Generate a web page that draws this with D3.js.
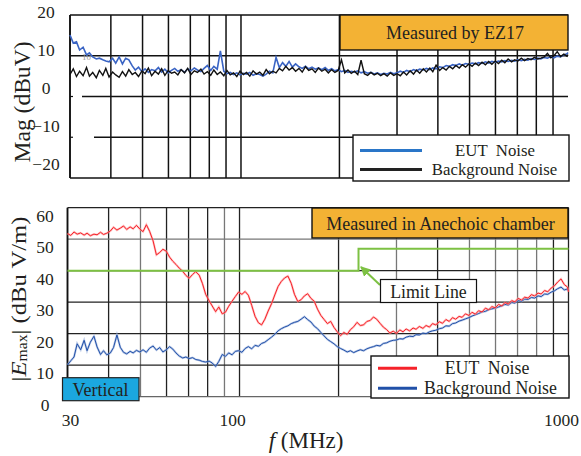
<!DOCTYPE html>
<html>
<head>
<meta charset="utf-8">
<script src="https://cdn.jsdelivr.net/npm/d3@7"></script>
<style>
  body { margin: 0; background: #fff; }
  text { font-family: "Liberation Serif", "Times New Roman", serif; fill: #231f20; }
</style>
</head>
<body>
<svg width="581" height="456"></svg>
<script>
// frequency points (MHz), shared by all traces
const freqs = [30.0, 30.7, 31.4, 32.1, 32.9, 33.7, 34.4, 35.2, 36.1, 36.9,
  37.8, 38.6, 39.5, 40.5, 41.4, 42.4, 43.4, 44.4, 45.4, 46.5,
  47.5, 48.6, 49.8, 50.9, 52.1, 53.3, 54.6, 55.9, 57.2, 58.5,
  59.9, 61.3, 62.7, 64.1, 65.6, 67.2, 68.7, 70.3, 72.0, 73.6,
  75.4, 77.1, 78.9, 80.8, 82.6, 84.6, 86.5, 88.6, 90.6, 92.7,
  94.9, 97.1, 99.3, 101.7, 104.0, 106.4, 108.9, 111.5, 114.1, 116.7,
  119.4, 122.2, 125.1, 128.0, 131.0, 134.0, 137.1, 140.3, 143.6, 146.9,
  150.4, 153.9, 157.5, 161.1, 164.9, 168.7, 172.6, 176.7, 180.8, 185.0,
  189.3, 193.7, 198.2, 202.9, 207.6, 212.4, 217.4, 222.4, 227.6, 232.9,
  238.3, 243.9, 249.6, 255.4, 261.3, 267.4, 273.6, 280.0, 286.5, 293.2,
  300, 307, 314, 321, 329, 337, 344, 352, 361, 369,
  378, 386, 395, 405, 414, 424, 434, 444, 454, 465,
  475, 486, 498, 509, 521, 533, 546, 559, 572, 585,
  599, 613, 627, 641, 656, 672, 687, 703, 720, 736,
  754, 771, 789, 808, 826, 846, 865, 886, 906, 927,
  949, 971, 993, 1000];

// top panel: measured by EZ17 (dBuV)
const ezEut = [15.1, 13.1, 13.4, 11.4, 12.1, 10.2, 10.7, 9.7, 9.2, 9.4,
  9.0, 8.7, 8.5, 9.4, 8.2, 9.7, 8.0, 9.4, 9.0, 7.5,
  6.5, 7.2, 6.1, 6.8, 5.9, 6.6, 6.3, 7.1, 6.0, 6.7,
  5.8, 6.4, 6.9, 6.2, 6.6, 5.9, 6.8, 6.3, 7.0, 6.5,
  6.1, 6.9, 7.6, 6.4, 7.4, 6.7, 11.2, 6.2, 5.6, 5.9,
  5.4, 5.8, 5.3, 5.7, 5.5, 5.9, 5.2, 5.6, 5.4, 5.0,
  5.5, 6.2, 5.8, 9.6, 7.1, 8.3, 7.4, 8.6, 7.2, 8.0,
  7.3, 6.9, 7.4, 6.8, 7.2, 6.7, 7.0, 6.6, 7.1, 6.4,
  6.8, 6.3, 6.6, 6.1, 6.4, 5.9, 6.2, 6.0, 6.3, 5.8,
  6.1, 5.7, 5.9, 5.5, 5.8, 5.4, 5.7, 5.5, 5.9, 5.6,
  5.8, 6.2, 5.9, 6.4, 6.1, 6.6, 6.3, 6.7, 6.5, 6.9,
  6.6, 7.0, 6.8, 7.3, 7.1, 7.6, 7.4, 7.8, 7.6, 8.0,
  7.7, 8.1, 7.9, 8.2, 8.0, 8.3, 8.1, 8.5, 8.2, 8.6,
  8.4, 8.7, 8.5, 8.8, 8.6, 8.9, 8.7, 9.0, 8.8, 9.1,
  8.9, 9.3, 9.1, 9.4, 9.2, 9.6, 9.4, 9.8, 9.5, 9.9,
  9.7, 10.2, 10.5, 10.8];
const ezBg = [5.4, 6.8, 4.9, 6.2, 5.1, 7.1, 5.0, 5.9, 4.6, 6.4,
  5.2, 6.9, 4.8, 6.0, 5.3, 4.7, 6.1, 5.0, 6.6, 5.4,
  5.9, 4.9, 6.3, 5.6, 7.0, 5.1, 6.2, 5.5, 6.8, 5.2,
  6.4, 5.7, 6.0, 5.3, 6.6, 5.8, 6.9, 5.4, 6.3, 5.9,
  6.7, 5.5, 6.1, 5.2, 6.5, 5.4, 6.0, 5.1, 6.4, 5.3,
  5.8, 4.9, 6.2, 5.4, 5.9, 5.0, 6.3, 5.5, 6.0, 5.2,
  6.6, 5.6, 6.2, 5.8, 6.9, 6.3, 7.4, 6.5, 7.1, 6.2,
  6.9, 6.0, 7.3, 6.4, 6.8, 5.9, 7.0, 6.2, 6.7, 5.8,
  6.6, 5.9, 6.4, 9.0, 5.8, 6.5, 5.7, 6.2, 5.4, 8.9,
  5.6, 5.2, 5.9, 5.3, 5.7, 5.1, 5.6, 5.0, 5.8, 5.2,
  5.6, 5.1, 6.0, 5.3, 6.3, 5.5, 6.5, 5.7, 6.8, 6.0,
  7.0, 6.1, 7.7, 6.4, 7.1, 6.5, 7.4, 6.8, 7.6, 7.0,
  7.8, 7.2, 8.0, 7.4, 8.2, 7.6, 8.4, 7.8, 8.6, 7.9,
  8.7, 8.1, 8.9, 8.3, 9.2, 8.5, 9.0, 8.7, 9.4, 8.8,
  9.3, 9.0, 9.6, 9.2, 9.4, 9.7, 10.6, 9.5, 10.0, 11.0,
  9.8, 10.4, 9.9, 10.3];

// bottom panel: anechoic chamber (dBuV/m)
const acEut = [51.8, 51.2, 52.3, 51.6, 52.0, 51.3, 51.9, 51.1, 51.6, 51.4,
  52.2, 51.5, 51.9, 52.6, 53.8, 52.9, 53.5, 54.2, 53.1, 53.9,
  53.3, 54.4, 53.2, 52.4, 54.6, 52.5, 49.5, 45.0, 45.8, 46.8,
  46.2, 44.3, 43.0, 42.0, 40.8, 39.8, 38.5, 37.6, 38.8, 39.7,
  38.6, 36.0, 32.5, 30.5, 28.8, 27.0, 28.5, 26.3, 26.8, 28.7,
  30.3, 31.8, 33.2, 32.5, 33.4, 32.2, 29.0, 25.5, 23.5, 22.8,
  24.6, 27.2, 29.5, 32.3, 35.0, 36.6, 37.7, 38.3, 36.0, 32.5,
  30.2, 30.8, 32.0, 32.7, 31.2, 30.3, 27.8, 25.8, 24.5, 23.2,
  23.9, 22.0, 20.6, 19.4, 20.4, 19.8, 21.3, 22.2, 23.6, 22.6,
  22.8, 23.9, 24.2, 25.3, 24.6, 23.3, 22.1, 21.3, 20.2, 20.8,
  20.1, 21.2, 20.6, 21.5, 20.9, 21.8, 21.4, 22.3, 21.7, 22.6,
  22.1, 23.2, 22.8, 23.8, 23.3, 24.5, 23.9, 25.1, 24.6, 25.5,
  25.2, 26.3, 25.8, 26.8, 26.2, 27.3, 26.9, 28.1, 27.6, 28.6,
  28.2, 29.3, 28.8, 29.9, 29.4, 30.5, 30.1, 31.2, 30.7, 31.6,
  31.3, 32.4, 32.0, 32.9, 32.6, 33.7, 33.3, 34.5, 35.2, 36.4,
  37.4, 35.6, 34.8, 33.3];
const acBg = [10.1, 11.4, 12.6, 16.8, 14.9, 17.9, 14.6, 17.3, 19.2, 15.8,
  13.4, 14.6, 13.3, 13.9, 15.6, 19.6, 15.7, 14.1, 13.6, 14.4,
  13.9, 14.7, 14.2, 14.9, 14.1, 15.4, 16.1, 14.8, 15.6, 14.2,
  14.9, 15.9, 15.1, 13.9, 12.9, 12.3, 12.6, 12.1, 12.4, 11.8,
  11.6, 11.2, 11.0, 11.3, 10.7, 9.6, 11.2, 13.4, 12.8, 13.9,
  13.3, 14.4, 14.6, 14.1, 15.3, 15.9, 15.2, 16.3, 16.0, 16.9,
  17.3, 18.1, 18.9, 19.8, 20.9, 21.6, 22.1, 22.5, 23.2, 23.6,
  23.9, 24.6, 25.4, 24.5, 23.7, 22.4, 21.6, 20.4, 19.3, 18.2,
  17.5, 16.8, 15.9, 15.3, 14.8, 14.2, 14.6, 14.0, 14.5, 14.9,
  14.6, 15.2, 15.6, 15.9, 16.3, 16.1, 16.9, 17.1, 17.6, 17.9,
  18.0, 18.4, 18.3, 18.9, 19.2, 19.1, 19.7, 19.6, 20.2, 20.0,
  20.6, 20.9, 21.1, 21.6, 21.8, 22.5, 22.4, 23.2, 23.4, 24.0,
  24.3, 24.7, 25.1, 25.6, 26.0, 26.4, 26.9, 27.1, 27.6, 27.9,
  28.1, 28.5, 28.8, 29.3, 29.1, 29.9, 29.7, 30.5, 30.3, 31.0,
  30.9, 31.5, 31.3, 32.0, 31.8, 32.6, 32.5, 33.2, 33.6, 34.3,
  34.8, 33.9, 34.2, 33.6];

// limit line (dBuV/m) - step at 230 MHz
const limitFreqs = [30, 230, 230, 1000];
const limitVals = [40, 40, 47, 47];

const gridFreqs = [40, 50, 60, 70, 80, 90, 100, 200, 300, 400, 500, 600, 700, 800, 900];
const topTicks = [20, 10, 0, -10, -20];
const botTicks = [0, 10, 20, 30, 40, 50, 60];
const xTickLabels = [30, 100, 1000];

const svg = d3.select("svg");
const FS = 17.8;   // label font size
const TS = 17.5;   // tick font size

// ---------------- top panel ----------------
const xT = d3.scaleLog().domain([30, 1000]).range([70, 568]);
const yT = d3.scaleLinear().domain([-20, 20]).range([178, 15]);
// the tick labels in the original sit on a slightly compressed ladder
const yTLab = d3.scaleLinear().domain([-20, 20]).range([163.5, 12]);

const gTop = svg.append("g");

gTop.selectAll(".vg").data(gridFreqs).enter().append("line")
  .attr("x1", d => xT(d)).attr("x2", d => xT(d))
  .attr("y1", yT(20)).attr("y2", yT(-20))
  .attr("stroke", "#111").attr("stroke-width", 1.5);

// horizontal grid (lines at 0 and -10 start a bit right of the axis)
const hStart = {20: 70, 10: 70, 0: 82, "-10": 94, "-20": 70};
gTop.selectAll(".hg").data(topTicks).enter().append("line")
  .attr("x1", d => hStart[d]).attr("x2", xT(1000))
  .attr("y1", d => yT(d)).attr("y2", d => yT(d))
  .attr("stroke", "#111").attr("stroke-width", 1.5);
gTop.selectAll(".tk").data([0, -10]).enter().append("line")
  .attr("x1", 70).attr("x2", 73).attr("y1", d => yT(d)).attr("y2", d => yT(d))
  .attr("stroke", "#111").attr("stroke-width", 1.2);

gTop.append("line").attr("x1", xT(30)).attr("x2", xT(30))
  .attr("y1", yT(20)).attr("y2", yT(-20)).attr("stroke", "#111").attr("stroke-width", 1.9);

gTop.append("text").attr("x", 82).attr("y", yT(10) + 4)
  .attr("font-size", 9).style("fill", "#999").text("10");

const lineT = d3.line().x((d, i) => xT(freqs[i])).y(d => yT(d));
gTop.append("path").datum(ezEut).attr("d", lineT)
  .attr("fill", "none").attr("stroke", "#3a64c4").attr("stroke-width", 1.6);
gTop.append("path").datum(ezBg).attr("d", lineT)
  .attr("fill", "none").attr("stroke", "#111").attr("stroke-width", 1.4);

gTop.selectAll(".yl").data(topTicks).enter().append("text")
  .attr("x", 46).attr("y", d => yTLab(d))
  .attr("text-anchor", "middle").attr("dominant-baseline", "central")
  .attr("font-size", TS)
  .text(d => d < 0 ? "\u2212" + Math.abs(d) : d);

gTop.append("text")
  .attr("transform", "translate(22,102) rotate(-90)")
  .attr("text-anchor", "middle").attr("dominant-baseline", "central")
  .attr("font-size", 23).attr("textLength", 121).attr("lengthAdjust", "spacingAndGlyphs")
  .text("Mag (dBuV)");

gTop.append("rect").attr("x", 340).attr("y", 15).attr("width", 228).attr("height", 35)
  .attr("fill", "#f3b234").attr("stroke", "#111").attr("stroke-width", 1.4);
gTop.append("text").attr("x", 455).attr("y", 33)
  .attr("text-anchor", "middle").attr("dominant-baseline", "central")
  .attr("font-size", 18).text("Measured by EZ17");

// legend top
gTop.append("rect").attr("x", 353).attr("y", 135).attr("width", 216).attr("height", 46)
  .attr("fill", "#fff").attr("stroke", "#111").attr("stroke-width", 1.4);
const legT = [{name: "EUT  Noise", color: "#2a76c8", y: 150.5, tx: 495},
              {name: "Background Noise", color: "#222", y: 169.5, tx: 494.5}];
legT.forEach(l => {
  gTop.append("line").attr("x1", 360).attr("x2", 422).attr("y1", l.y).attr("y2", l.y)
    .attr("stroke", l.color).attr("stroke-width", 3);
  gTop.append("text").attr("x", l.tx).attr("y", l.y)
    .attr("text-anchor", "middle").attr("dominant-baseline", "central")
    .attr("font-size", 16.8).style("white-space", "pre").text(l.name);
});

// ---------------- bottom panel ----------------
const xB = d3.scaleLog().domain([30, 1000]).range([67.5, 568.5]);
const yB = d3.scaleLinear().domain([0, 60]).range([396.7, 207.7]);
const gBot = svg.append("g");

const lightV = new Set([50, 90, 300, 500, 600, 700, 800]);
gBot.selectAll(".vg").data(gridFreqs).enter().append("line")
  .attr("x1", d => xB(d)).attr("x2", d => xB(d))
  .attr("y1", yB(60)).attr("y2", yB(0))
  .attr("stroke", d => lightV.has(d) ? "#777" : "#222").attr("stroke-width", 1.3);
gBot.selectAll(".hg").data([10, 20, 30, 40, 50]).enter().append("line")
  .attr("x1", xB(30)).attr("x2", xB(1000))
  .attr("y1", d => yB(d)).attr("y2", d => yB(d))
  .attr("stroke", d => d === 50 ? "#777" : "#222").attr("stroke-width", 1.3);
gBot.append("line").attr("x1", xB(30)).attr("x2", xB(1000))
  .attr("y1", yB(60)).attr("y2", yB(60)).attr("stroke", "#222").attr("stroke-width", 1.3);
gBot.append("line").attr("x1", xB(30)).attr("x2", xB(1000))
  .attr("y1", yB(0)).attr("y2", yB(0)).attr("stroke", "#666").attr("stroke-width", 1.3);
gBot.append("line").attr("x1", xB(1000)).attr("x2", xB(1000))
  .attr("y1", yB(60)).attr("y2", yB(0)).attr("stroke", "#222").attr("stroke-width", 1.3);
gBot.append("line").attr("x1", xB(30)).attr("x2", xB(30))
  .attr("y1", yB(60)).attr("y2", yB(0)).attr("stroke", "#111").attr("stroke-width", 1.9);

const lineB = d3.line().x((d, i) => xB(freqs[i])).y(d => yB(d));
gBot.append("path").datum(acBg).attr("d", lineB)
  .attr("fill", "none").attr("stroke", "#8fa8d8").attr("stroke-width", 2.2).attr("opacity", 0.6);
gBot.append("path").datum(acBg).attr("d", lineB)
  .attr("fill", "none").attr("stroke", "#2150a8").attr("stroke-width", 1);
gBot.append("path").datum(acEut).attr("d", lineB)
  .attr("fill", "none").attr("stroke", "#ff9a9a").attr("stroke-width", 2.2).attr("opacity", 0.6);
gBot.append("path").datum(acEut).attr("d", lineB)
  .attr("fill", "none").attr("stroke", "#f5222a").attr("stroke-width", 1);

const limitLine = d3.line().x((d, i) => xB(limitFreqs[i])).y(d => yB(d));
gBot.append("path").datum(limitVals).attr("d", limitLine)
  .attr("fill", "none").attr("stroke", "#7dc143").attr("stroke-width", 2);

gBot.selectAll(".yl").data(botTicks).enter().append("text")
  .attr("x", 45).attr("y", d => yB(d) + 8)
  .attr("text-anchor", "middle").attr("dominant-baseline", "central")
  .attr("font-size", TS).text(d => d);

const xLabShift = {30: 3, 100: -7, 1000: -7};
gBot.selectAll(".xl").data(xTickLabels).enter().append("text")
  .attr("x", d => xB(d) + xLabShift[d]).attr("y", 420)
  .attr("text-anchor", "middle").attr("dominant-baseline", "central")
  .attr("font-size", TS).text(d => d);

const xt = gBot.append("text").attr("x", 306).attr("y", 440)
  .attr("text-anchor", "middle").attr("dominant-baseline", "central")
  .attr("font-size", 23);
xt.append("tspan").attr("font-style", "italic").text("f");
xt.append("tspan").text(" (MHz)");

const yt = gBot.append("text")
  .attr("transform", "translate(18,299) rotate(-90)")
  .attr("text-anchor", "middle").attr("dominant-baseline", "central")
  .attr("font-size", 22);
yt.append("tspan").text("|");
yt.append("tspan").attr("font-style", "italic").text("E");
yt.append("tspan").attr("font-size", 14).attr("dy", 4).text("max");
yt.append("tspan").attr("dy", -4).text("| (dBu V/m)");
// squeeze to the printed length
const ytLen = yt.node().getComputedTextLength();
yt.attr("transform", `translate(18,299) rotate(-90) scale(${165 / ytLen},1)`);

gBot.append("rect").attr("x", 312).attr("y", 208).attr("width", 256).attr("height", 30)
  .attr("fill", "#f3b234").attr("stroke", "#111").attr("stroke-width", 1.4);
gBot.append("text").attr("x", 440.5).attr("y", 224)
  .attr("text-anchor", "middle").attr("dominant-baseline", "central")
  .attr("font-size", 18).text("Measured in Anechoic chamber");

// limit line callout
gBot.append("defs").append("marker").attr("id", "arr")
  .attr("viewBox", "0 0 10 10").attr("refX", 9).attr("refY", 5)
  .attr("markerWidth", 5).attr("markerHeight", 5).attr("orient", "auto")
  .append("path").attr("d", "M0,0L10,5L0,10z").attr("fill", "#7dc143");
gBot.append("line").attr("x1", 380).attr("y1", 285).attr("x2", 361).attr("y2", 267)
  .attr("stroke", "#7dc143").attr("stroke-width", 2).attr("marker-end", "url(#arr)");
gBot.append("rect").attr("x", 380.5).attr("y", 279.5).attr("width", 96).attr("height", 23)
  .attr("fill", "#fff").attr("stroke", "#111").attr("stroke-width", 1.2);
gBot.append("text").attr("x", 428.5).attr("y", 291.5)
  .attr("text-anchor", "middle").attr("dominant-baseline", "central")
  .attr("font-size", FS).text("Limit Line");

// legend bottom
gBot.append("rect").attr("x", 371).attr("y", 356).attr("width", 198).attr("height", 42)
  .attr("fill", "#fff").attr("stroke", "#111").attr("stroke-width", 1.4);
const legB = [{name: "EUT  Noise", color: "#f5222a", y: 368.3, tx: 487},
              {name: "Background Noise", color: "#2150a8", y: 388.3, tx: 490.5}];
legB.forEach(l => {
  gBot.append("line").attr("x1", 378).attr("x2", 417).attr("y1", l.y).attr("y2", l.y)
    .attr("stroke", l.color).attr("stroke-width", 3);
  gBot.append("text").attr("x", l.tx).attr("y", l.y)
    .attr("text-anchor", "middle").attr("dominant-baseline", "central")
    .attr("font-size", FS).style("white-space", "pre").text(l.name);
});

// polarisation tag
gBot.append("rect").attr("x", 62.5).attr("y", 377.7).attr("width", 76.5).attr("height", 23)
  .attr("fill", "#1ba7df").attr("stroke", "#222").attr("stroke-width", 1.2);
gBot.append("text").attr("x", 100.5).attr("y", 389.5)
  .attr("text-anchor", "middle").attr("dominant-baseline", "central")
  .attr("font-size", 18).text("Vertical");
</script>
</body>
</html>
